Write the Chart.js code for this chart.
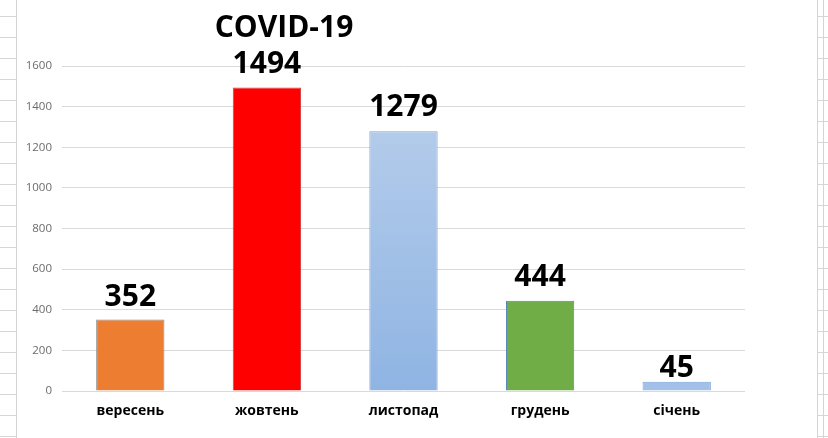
<!DOCTYPE html>
<html>
<head>
<meta charset="utf-8">
<script src="https://cdn.jsdelivr.net/npm/chart.js@4"></script>
<style>
  html, body { margin: 0; padding: 0; }
  body {
    width: 828px; height: 438px; overflow: hidden; position: relative;
    background: #fff;
  }
  #leftGrid, #rightGrid {
    position: absolute; top: 0; height: 438px;
    background-image: repeating-linear-gradient(to bottom, transparent 0px, transparent 16px, #d6d6d6 16px, #d6d6d6 17px, transparent 17px, transparent 21px);
    background-size: 100% 21px;
    background-position: 0 0;
  }
  #leftGrid { left: 0; width: 16px; border-right: 1px solid #d4d4d4; }
  #rightGrid { left: 817px; width: 11px; border-left: 1px solid #d4d4d4; }
  #rightLine { position: absolute; left: 823px; top: 0; width: 1px; height: 438px; background: #d4d4d4; }
  #wrap { position: absolute; left: 17px; top: 0; width: 800px; height: 438px; background: #fff; }
</style>
</head>
<body>
<div id="leftGrid"></div>
<div id="rightGrid"></div>
<div id="rightLine"></div>
<div id="wrap"><canvas id="c" width="800" height="438"></canvas></div>
<script>
const categories = ['вересень', 'жовтень', 'листопад', 'грудень', 'січень'];
const cases = [352, 1494, 1279, 444, 45];
const yTicks = [0, 200, 400, 600, 800, 1000, 1200, 1400, 1600];
const titleText = 'COVID-19';

// styling (not data)
const fillColors = ['#ED7D31', '#FF0000', 'blueGradient', '#70AD47', '#a3c1e8'];
const borderColors = ['#8a8a8a', '#d04040', '#7aa3d8', '#4f81bd', '#7aa3d8'];
const labelGaps = [14, 15, 15, 15, 5];

function blueGrad(ctx) {
  const chart = ctx.chart;
  const area = chart.chartArea;
  if (!area) return '#9dbce6';
  const g = chart.ctx.createLinearGradient(0, area.top, 0, area.bottom);
  g.addColorStop(0, '#bcd1ec');
  g.addColorStop(1, '#8fb4e3');
  return g;
}

const labelPlugin = {
  id: 'valueLabels',
  afterDatasetsDraw(chart) {
    const ctx = chart.ctx;
    const meta = chart.getDatasetMeta(0);
    ctx.save();
    ctx.font = 'bold 30px "Open Sans"';
    ctx.fillStyle = '#000';
    ctx.textAlign = 'center';
    ctx.textBaseline = 'alphabetic';
    meta.data.forEach((bar, i) => {
      ctx.fillText(String(cases[i]), bar.x, bar.y - labelGaps[i]);
    });
    // title
    ctx.fillText(titleText, 267, 37);
    ctx.restore();
  }
};

new Chart(document.getElementById('c'), {
  type: 'bar',
  data: {
    labels: categories,
    datasets: [{
      data: cases,
      backgroundColor: (ctx) => {
        const c = fillColors[ctx.dataIndex];
        return c === 'blueGradient' ? blueGrad(ctx) : c;
      },
      borderColor: borderColors,
      borderWidth: 1,
      categoryPercentage: 1.0,
      barPercentage: 0.5
    }]
  },
  options: {
    responsive: false,
    animation: false,
    layout: { padding: { left: 0, right: 72, top: 66, bottom: 0 } },
    plugins: {
      legend: { display: false },
      title: { display: false },
      tooltip: { enabled: false }
    },
    scales: {
      x: {
        grid: { display: false, drawTicks: false },
        border: { display: false },
        ticks: {
          padding: 12,
          color: '#000',
          font: { family: '"Open Sans"', size: 14, weight: 'bold' }
        },
        afterFit(s) { s.height = 47; }
      },
      y: {
        min: 0,
        max: 1600,
        afterBuildTicks(s) { s.ticks = yTicks.map(v => ({ value: v })); },
        grid: { color: '#d9d9d9', lineWidth: 1, drawTicks: false },
        border: { display: false },
        ticks: {
          padding: 10,
          color: '#6b6b6b',
          font: { family: '"Open Sans"', size: 11.5 },
          callback: (v) => String(v)
        },
        afterFit(s) { s.width = 45; }
      }
    }
  },
  plugins: [labelPlugin]
});
</script>
</body>
</html>
